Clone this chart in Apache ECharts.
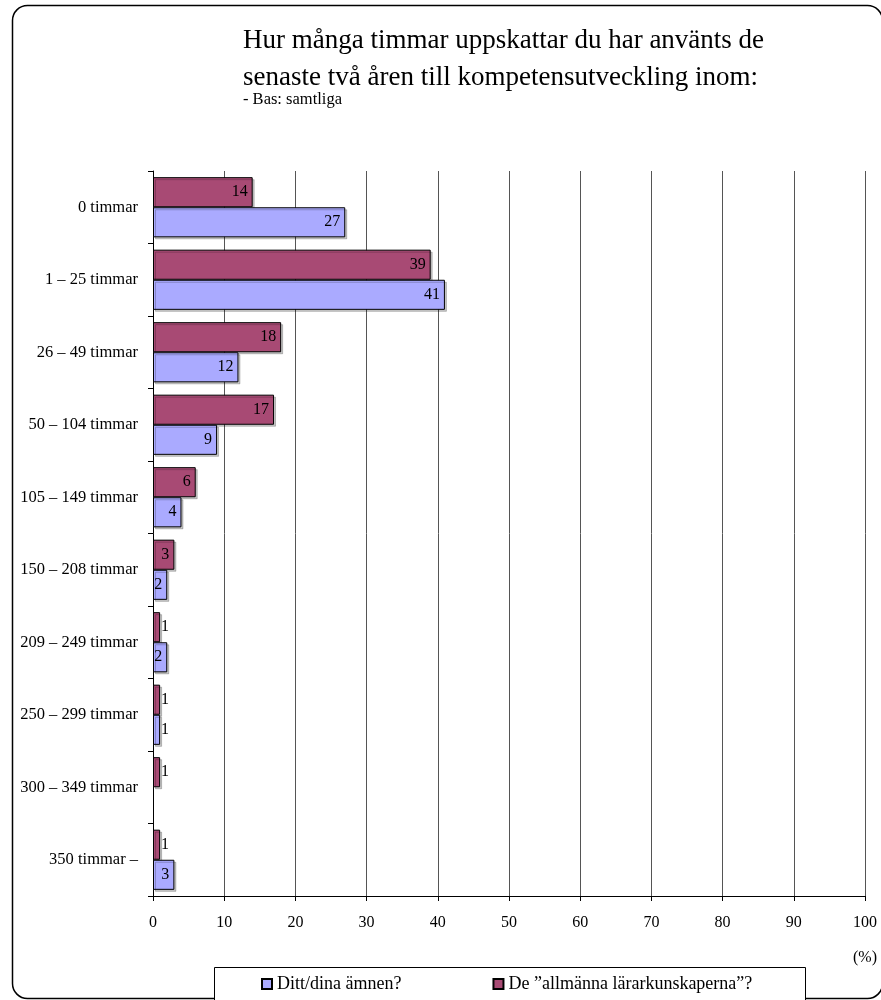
<!DOCTYPE html>
<html>
<head>
<meta charset="utf-8">
<style>html,body{margin:0;padding:0;background:#fff;}#chart{width:881px;height:1000px;}</style>
<script src="https://cdn.jsdelivr.net/npm/echarts@6/dist/echarts.min.js"></script>
</head>
<body>
<div id="chart"></div>
<script>
const categories = ["0 timmar", "1 – 25 timmar", "26 – 49 timmar", "50 – 104 timmar", "105 – 149 timmar", "150 – 208 timmar", "209 – 249 timmar", "250 – 299 timmar", "300 – 349 timmar", "350 timmar –"];
const seriesNames = ["Ditt/dina ämnen?", "De ”allmänna lärarkunskaperna”?"];
const dittValues = [27, 41, 12, 9, 4, 2, 2, 1, 0, 3];
const allmannaValues = [14, 39, 18, 17, 6, 3, 1, 1, 1, 1];
const xTicks = [0, 10, 20, 30, 40, 50, 60, 70, 80, 90, 100];

const FONT = "'Liberation Serif', 'Times New Roman', serif";

function toData(vals) {
  return vals.map(v => v === 0 ? '-' : (v <= 1 ? { value: v, label: { position: 'right', distance: 1 } } : v));
}

const chart = echarts.init(document.getElementById('chart'), null, { renderer: 'canvas' });
const labelCfg = {
  show: true,
  position: 'insideRight',
  distance: 5,
  color: '#000',
  fontFamily: FONT,
  fontSize: 16
};
const option = {
  animation: false,
  backgroundColor: '#fff',
  title: [
    {
      text: 'Hur många timmar uppskattar du har använts de\nsenaste två åren till kompetensutveckling inom:',
      left: 238, top: 17,
      textStyle: { fontFamily: FONT, fontSize: 27, fontWeight: 'normal', color: '#000', lineHeight: 37 }
    },
    {
      text: '- Bas: samtliga',
      left: 238, top: 86,
      textStyle: { fontFamily: FONT, fontSize: 16.5, fontWeight: 'normal', color: '#000' }
    }
  ],
  graphic: [
    { type: 'rect', shape: { x: 12.5, y: 5.5, width: 870, height: 993, r: 15 }, style: { fill: 'none', stroke: '#000', lineWidth: 1.5 }, z: -1 },
    { type: 'rect', shape: { x: 214.5, y: 967.5, width: 591, height: 40 }, style: { fill: '#fff', stroke: '#000', lineWidth: 1 }, z: 0 },
    { type: 'text', right: 4, top: 950, style: { text: '(%)', fontFamily: FONT, fontSize: 16, fill: '#000' } }
  ],
  legend: {
    data: seriesNames,
    left: 256, top: 970,
    icon: 'rect', itemWidth: 10, itemHeight: 10, itemGap: 91,
    textStyle: { fontFamily: FONT, fontSize: 18, color: '#000' },
    z: 5
  },
  grid: { left: 153, right: 16, top: 171, bottom: 104, containLabel: false },
  xAxis: {
    type: 'value', min: 0, max: 100, interval: 10,
    axisLine: { show: true, lineStyle: { color: '#000', width: 1 } },
    axisTick: { show: true, length: 5, lineStyle: { color: '#000' } },
    axisLabel: { color: '#000', fontFamily: FONT, fontSize: 16, margin: 19, formatter: v => (xTicks.includes(v) ? String(v) : '') },
    splitLine: { show: true, lineStyle: { color: '#555', width: 1 } }
  },
  yAxis: {
    type: 'category', data: categories, inverse: true,
    axisLine: { show: true, lineStyle: { color: '#000', width: 1 } },
    axisTick: { show: true, length: 5, interval: 0, lineStyle: { color: '#000' } },
    axisLabel: { color: '#000', fontFamily: FONT, fontSize: 16.5, margin: 15, interval: 0 },
    splitLine: { show: false }
  },
  series: [
    {
      name: seriesNames[1], type: 'bar', data: toData(allmannaValues),
      barGap: '0%', barCategoryGap: '17%',
      itemStyle: { color: '#A84A74', borderColor: '#000', borderWidth: 1, shadowColor: 'rgba(0,0,0,0.22)', shadowOffsetX: 2, shadowOffsetY: 2, shadowBlur: 0 },
      label: labelCfg
    },
    {
      name: seriesNames[0], type: 'bar', data: toData(dittValues),
      barGap: '0%', barCategoryGap: '17%',
      itemStyle: { color: '#AAAAFF', borderColor: '#000', borderWidth: 1, shadowColor: 'rgba(0,0,0,0.22)', shadowOffsetX: 2, shadowOffsetY: 2, shadowBlur: 0 },
      label: labelCfg
    }
  ]
};
chart.setOption(option);
</script>
</body>
</html>
